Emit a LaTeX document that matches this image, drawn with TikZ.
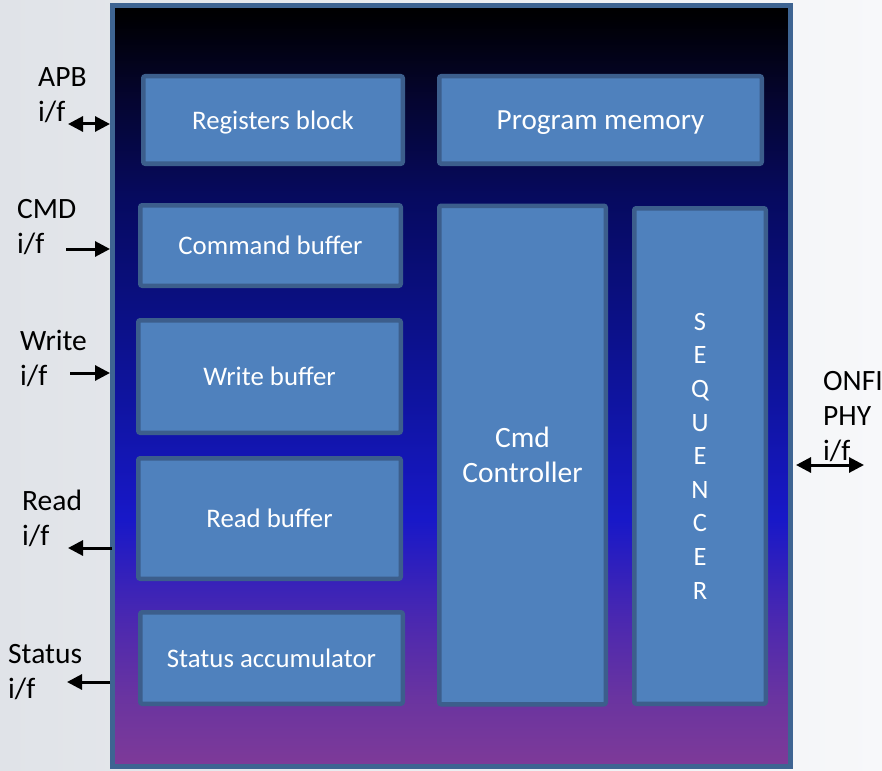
\documentclass[tikz,border=0pt]{standalone}
\usepackage{fontspec}
\setmainfont{Carlito}
\usetikzlibrary{arrows.meta}
\definecolor{bgL}{RGB}{224,227,232}
\definecolor{bgR}{RGB}{247,248,250}
\definecolor{boxfill}{RGB}{79,129,189}
\definecolor{boxline}{RGB}{60,94,140}
\definecolor{chipline}{RGB}{62,100,146}
\definecolor{gA}{RGB}{126,58,152}
\definecolor{gB}{RGB}{106,52,160}
\definecolor{gC}{RGB}{74,40,176}
\definecolor{gD}{RGB}{24,24,200}
\definecolor{gE}{RGB}{15,20,160}
\definecolor{gF}{RGB}{10,15,128}
\definecolor{gG}{RGB}{6,10,96}
\definecolor{gH}{RGB}{5,5,48}
\definecolor{gI}{RGB}{0,0,5}
\pgfdeclareverticalshading{chipgrad}{100bp}{
 color(0bp)=(gA); color(25bp)=(gA); color(29.5bp)=(gB); color(34.7bp)=(gC);
 color(41.25bp)=(gD); color(49.1bp)=(gE); color(55.7bp)=(gF); color(62.2bp)=(gG);
 color(68.8bp)=(gH); color(74bp)=(gI); color(75bp)=(black); color(100bp)=(black)}
\begin{document}
\begin{tikzpicture}[x=1pt,y=-1pt,
  blk/.style={draw=boxline, line width=4.5pt, fill=boxfill, rounded corners=2pt,
    text=white, font=\fontsize{26.8}{32}\selectfont, inner sep=0pt, align=center},
  oneline/.style={blk, text depth=0pt},
  lbl/.style={anchor=base west, align=left, inner sep=0pt,
    font=\fontsize{29.5}{35}\selectfont},
  arr/.style={line width=3pt, -{Triangle[length=15pt,width=15pt]}},
  darr/.style={line width=3pt, {Triangle[length=15pt,width=15pt]}-{Triangle[length=15pt,width=15pt]}}
]
\useasboundingbox (0,0) rectangle (882,770);
\fill[left color=bgL, right color=bgR] (0,0) rectangle (882,770);

\node[draw=chipline, line width=5pt, shading=chipgrad, inner sep=0pt,
  minimum width=678pt, minimum height=761pt] (chip) at (451.5,386) {};

\node[oneline, minimum width=259.5pt, minimum height=87.5pt] (reg) at (273,120) {Registers block};
\node[oneline, minimum width=322.5pt, minimum height=87.5pt, font=\fontsize{29.2}{34}\selectfont] (prog) at (600.5,120) {Program memory};
\node[oneline, minimum width=260.5pt, minimum height=80.5pt] (cmdbuf) at (270.5,245.5) {Command buffer};
\node[oneline, minimum width=262.5pt, minimum height=112.5pt] (wbuf) at (269.5,376.5) {Write buffer};
\node[oneline, minimum width=262.5pt, minimum height=120.5pt] (rbuf) at (269.5,518.5) {Read buffer};
\node[oneline, minimum width=262.5pt, minimum height=91.5pt] (stat) at (271.5,658) {Status accumulator};
\node[blk, minimum width=166.5pt, minimum height=498.5pt, font=\fontsize{29.5}{35}\selectfont] (ctrl) at (522.5,455) {Cmd\\Controller};
\node[blk, minimum width=131.5pt, minimum height=495.5pt, font=\fontsize{26.5}{33.6}\selectfont] (seq) at (700,456) {S\\E\\Q\\U\\E\\N\\C\\E\\R};

\node[lbl] (apbL) at (38,122) {APB\\i/f};
\node[lbl] (cmdL) at (17,253) {CMD\\i/f};
\node[lbl] (wrL) at (20,385) {Write\\i/f};
\node[lbl] (rdL) at (22,545) {Read\\i/f};
\node[lbl] (stL) at (8,698) {Status\\i/f};
\node[lbl] (onL) at (823,460) {ONFI\\PHY\\i/f};

\coordinate (apbS) at (68,124);
\coordinate (cmdS) at (66,249);
\coordinate (wrS) at (70,373);
\coordinate (rdE) at (68,548);
\coordinate (stE) at (67,682);
\coordinate (onE) at (864,465);

\draw[darr] (apbS) -- (apbS -| chip.west);
\draw[arr] (cmdS) -- (cmdS -| chip.west);
\draw[arr] (wrS) -- (wrS -| chip.west);
\draw[arr] ([xshift=2pt]rdE -| chip.west) -- (rdE);
\draw[arr] (stE -| chip.west) -- (stE);
\draw[darr] ([xshift=3pt]onE -| chip.east) -- (onE);
\end{tikzpicture}
\end{document}
